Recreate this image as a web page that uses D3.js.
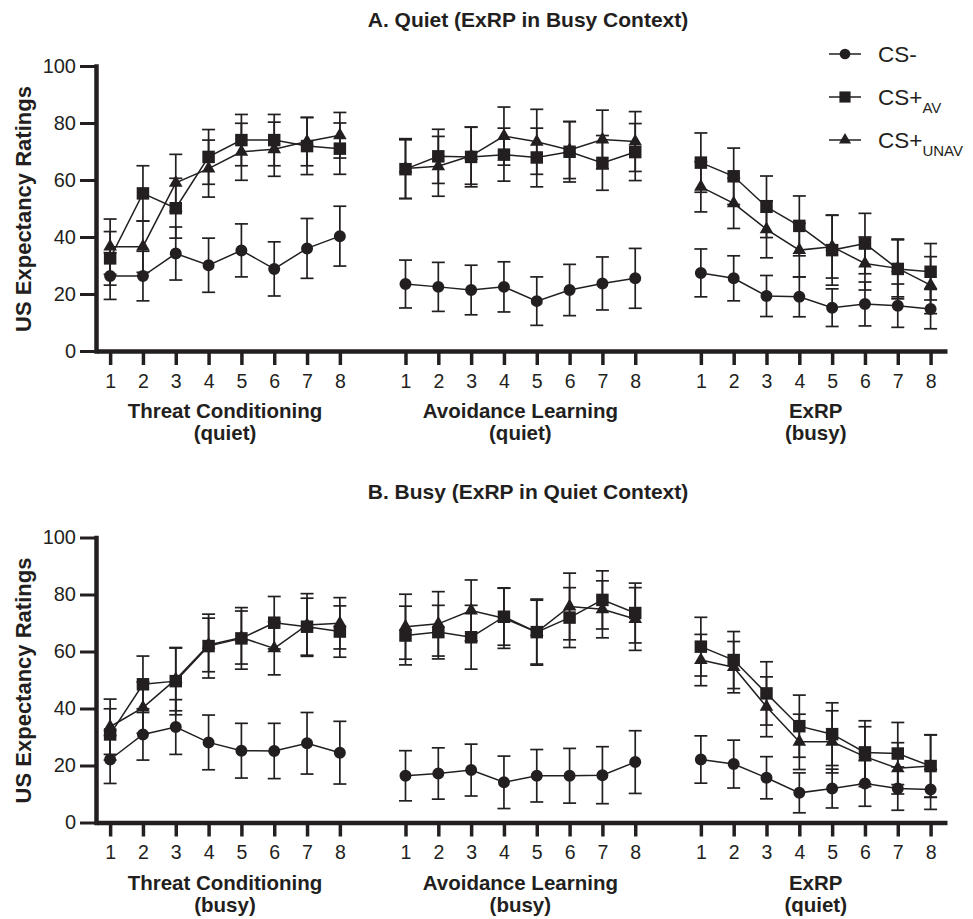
<!DOCTYPE html>
<html>
<head>
<meta charset="utf-8">
<script src="https://cdn.jsdelivr.net/npm/d3@7"></script>
<style>
  body { margin: 0; background: #fff; }
  svg { display: block; }
  text { font-family: "Liberation Sans", Arial, Helvetica, sans-serif; fill: #231f20; }
</style>
</head>
<body>
<svg width="973" height="919"></svg>
<script>
// trials and phases
var trials = [1, 2, 3, 4, 5, 6, 7, 8];
var phases = ["Threat Conditioning", "Avoidance Learning", "ExRP"];
var yTicks = [0, 20, 40, 60, 80, 100];

// Panel A: quiet acquisition, ExRP in busy context
var titleA = "A. Quiet (ExRP in Busy Context)";
var contextsA = ["(quiet)", "(quiet)", "(busy)"];
var quietCSm     = [26.3, 26.3, 34.2, 30.1, 35.3, 28.8, 36.0, 40.3,  23.5, 22.5, 21.4, 22.5, 17.5, 21.4, 23.7, 25.5,  27.4, 25.5, 19.3, 19.0, 15.2, 16.5, 15.9, 14.7];
var quietCSmErr  = [8.2, 8.7, 9.3, 9.5, 9.3, 9.5, 10.5, 10.5,  8.4, 8.6, 8.7, 8.8, 8.5, 9.0, 9.3, 10.5,  8.4, 7.9, 7.2, 7.0, 6.6, 7.7, 7.6, 6.9];
var quietAV      = [32.5, 55.3, 50.1, 68.1, 74.0, 74.0, 71.9, 71.0,  63.8, 68.3, 68.1, 68.9, 67.9, 69.9, 66.0, 69.8,  66.1, 61.3, 50.6, 43.9, 35.4, 37.7, 28.8, 27.8];
var quietAVErr   = [9.4, 9.7, 10.5, 9.6, 9.0, 9.0, 10.0, 9.0,  10.3, 9.5, 10.5, 9.3, 10.3, 10.6, 9.6, 10.0,  10.4, 9.9, 10.8, 10.5, 12.3, 10.6, 10.5, 9.9];
var quietUNAV    = [36.6, 36.6, 59.0, 64.0, 69.9, 70.8, 73.5, 75.7,  64.0, 64.8, 68.5, 75.4, 73.4, 70.5, 74.2, 73.5,  57.6, 51.8, 42.7, 35.4, 36.6, 30.7, 29.0, 23.1];
var quietUNAVErr = [9.7, 9.0, 10.0, 10.0, 10.0, 9.5, 8.5, 8.0,  10.5, 10.5, 10.0, 10.2, 11.4, 10.0, 10.3, 10.5,  8.8, 8.8, 10.0, 9.4, 11.0, 9.3, 10.0, 10.0];

// Panel B: busy acquisition, ExRP in quiet context
var titleB = "B. Busy (ExRP in Quiet Context)";
var contextsB = ["(busy)", "(busy)", "(quiet)"];
var busyCSm     = [22.1, 30.9, 33.5, 28.1, 25.2, 25.1, 27.8, 24.5,  16.4, 17.2, 18.4, 14.1, 16.4, 16.4, 16.6, 21.2,  22.1, 20.5, 15.7, 10.4, 11.9, 13.7, 11.9, 11.6];
var busyCSmErr  = [8.4, 9.0, 9.6, 9.6, 9.6, 9.7, 10.8, 11.0,  8.8, 9.0, 9.1, 9.2, 9.2, 9.6, 10.0, 11.0,  8.3, 8.4, 7.4, 7.0, 6.8, 8.0, 7.6, 7.0];
var busyAV      = [30.9, 48.5, 49.6, 61.9, 64.6, 70.1, 68.7, 67.0,  65.6, 66.8, 65.0, 72.2, 66.8, 71.9, 78.1, 73.5,  61.7, 57.0, 45.3, 33.8, 31.0, 24.6, 24.2, 19.8];
var busyAVErr   = [9.0, 9.9, 11.8, 11.2, 10.8, 9.2, 10.0, 9.0,  10.3, 9.4, 11.2, 10.0, 11.2, 10.5, 10.2, 10.5,  10.3, 10.0, 11.1, 10.9, 11.0, 11.1, 10.9, 10.9];
var busyUNAV    = [33.6, 40.3, 50.2, 62.3, 64.9, 61.1, 69.3, 69.9,  68.7, 69.7, 74.4, 71.7, 66.8, 75.8, 74.8, 71.4,  57.0, 54.5, 40.6, 28.3, 28.3, 23.1, 19.0, 19.8];
var busyUNAVErr = [9.7, 9.0, 11.0, 9.4, 9.3, 9.3, 11.0, 9.0,  11.4, 11.3, 10.7, 10.6, 11.6, 11.7, 10.0, 11.0,  9.0, 9.0, 10.5, 9.7, 10.9, 10.5, 9.0, 11.0];

var ink = "#231f20";
var svg = d3.select("svg");

// slot index: 8 trials per phase, one empty slot between phases
var x = d3.scaleLinear().domain([-0.4, 25.5]).range([97, 947]);
function slot(i) { return Math.floor(i / 8) * 9 + (i % 8); }
var slots = d3.range(24).map(slot);

var shapes = [
  { name: "CS-", sub: "", sym: d3.symbolCircle, size: 113 },
  { name: "CS+", sub: "AV", sym: d3.symbolSquare, size: 156 },
  { name: "CS+", sub: "UNAV", sym: d3.symbolTriangle, size: 80 }
];

function panel(top, title, contexts, series) {
  var y = d3.scaleLinear().domain([0, 100]).range([top + 285, top]);
  var g = svg.append("g");

  // title
  g.append("text")
    .attr("x", 528).attr("y", top - 39)
    .attr("text-anchor", "middle")
    .style("font-size", "21px").style("font-weight", "bold")
    .text(title);

  // y label
  g.append("text")
    .attr("transform", "translate(31," + (top + 143) + ")rotate(-90)")
    .attr("text-anchor", "middle")
    .style("font-size", "22px").style("font-weight", "bold")
    .text("US Expectancy Ratings");

  // y axis
  var ya = g.append("g")
    .attr("transform", "translate(96,0)")
    .call(d3.axisLeft(y).tickValues(yTicks).tickSize(16).tickSizeOuter(0).tickPadding(4));
  ya.select(".domain").attr("stroke", ink).attr("stroke-width", 4.5).attr("stroke-linecap", "square");
  ya.selectAll(".tick line").attr("stroke", ink).attr("stroke-width", 3);
  ya.selectAll(".tick text").style("font-size", "20px").attr("fill", ink);

  // x axis
  var xa = g.append("g")
    .attr("transform", "translate(0," + y(0) + ")")
    .call(d3.axisBottom(x).tickValues(slots).tickSize(14).tickSizeOuter(0).tickPadding(9)
      .tickFormat(function (d) { return trials[d % 9]; }));
  xa.select(".domain").attr("stroke", ink).attr("stroke-width", 4.5);
  xa.selectAll(".tick line").attr("stroke", ink).attr("stroke-width", 3.5);
  xa.selectAll(".tick text").style("font-size", "19.5px").attr("fill", ink);

  // phase labels
  phases.forEach(function (p, k) {
    var cx = (x(k * 9) + x(k * 9 + 7)) / 2;
    var t = g.append("text")
      .attr("text-anchor", "middle")
      .style("font-size", "20.5px").style("font-weight", "bold");
    t.append("tspan").attr("x", cx).attr("y", y(0) + 67).text(p);
    t.append("tspan").attr("x", cx).attr("y", y(0) + 89).text(contexts[k]);
  });

  // error bars, lines, markers
  var line = d3.line().x(function (d) { return x(d.s); }).y(function (d) { return y(d.v); });
  series.forEach(function (ser, si) {
    var pts = ser.v.map(function (v, i) { return { s: slots[i], v: v, e: ser.e[i], ph: Math.floor(i / 8) }; });
    var eb = g.append("g").attr("stroke", ink).attr("stroke-width", 1.7);
    eb.selectAll("line.v").data(pts).enter().append("line")
      .attr("x1", function (d) { return x(d.s); }).attr("x2", function (d) { return x(d.s); })
      .attr("y1", function (d) { return y(d.v - d.e); }).attr("y2", function (d) { return y(d.v + d.e); });
    [1, -1].forEach(function (sgn) {
      eb.selectAll("line.c" + sgn).data(pts).enter().append("line")
        .attr("x1", function (d) { return x(d.s) - 6.5; }).attr("x2", function (d) { return x(d.s) + 6.5; })
        .attr("y1", function (d) { return y(d.v + sgn * d.e); }).attr("y2", function (d) { return y(d.v + sgn * d.e); });
    });
    d3.range(3).forEach(function (ph) {
      g.append("path")
        .datum(pts.filter(function (d) { return d.ph === ph; }))
        .attr("d", line)
        .attr("fill", "none").attr("stroke", ink).attr("stroke-width", 1.5);
    });
  });
  series.forEach(function (ser, si) {
    var sh = shapes[si];
    g.append("g").selectAll("path").data(ser.v).enter().append("path")
      .attr("d", d3.symbol(sh.sym, sh.size))
      .attr("transform", function (v, i) { return "translate(" + x(slots[i]) + "," + y(v) + ")"; })
      .attr("fill", ink);
  });
}

panel(66, titleA, contextsA, [
  { v: quietCSm, e: quietCSmErr },
  { v: quietAV, e: quietAVErr },
  { v: quietUNAV, e: quietUNAVErr }
]);
panel(537.5, titleB, contextsB, [
  { v: busyCSm, e: busyCSmErr },
  { v: busyAV, e: busyAVErr },
  { v: busyUNAV, e: busyUNAVErr }
]);

// legend
var lg = svg.append("g").selectAll("g").data(shapes).enter().append("g")
  .attr("transform", function (d, i) { return "translate(0," + (54 + i * 43) + ")"; });
lg.append("line").attr("x1", 829).attr("x2", 861).attr("stroke", ink).attr("stroke-width", 1.5);
lg.append("path").attr("d", function (d) { return d3.symbol(d.sym, d.size * 0.8)(); })
  .attr("transform", "translate(845,0)").attr("fill", ink);
var lt = lg.append("text").attr("x", 878).attr("y", 8).style("font-size", "22.5px");
lt.append("tspan").text(function (d) { return d.name; });
lt.append("tspan").attr("dy", 8).style("font-size", "15px").text(function (d) { return d.sub; });
</script>
</body>
</html>
